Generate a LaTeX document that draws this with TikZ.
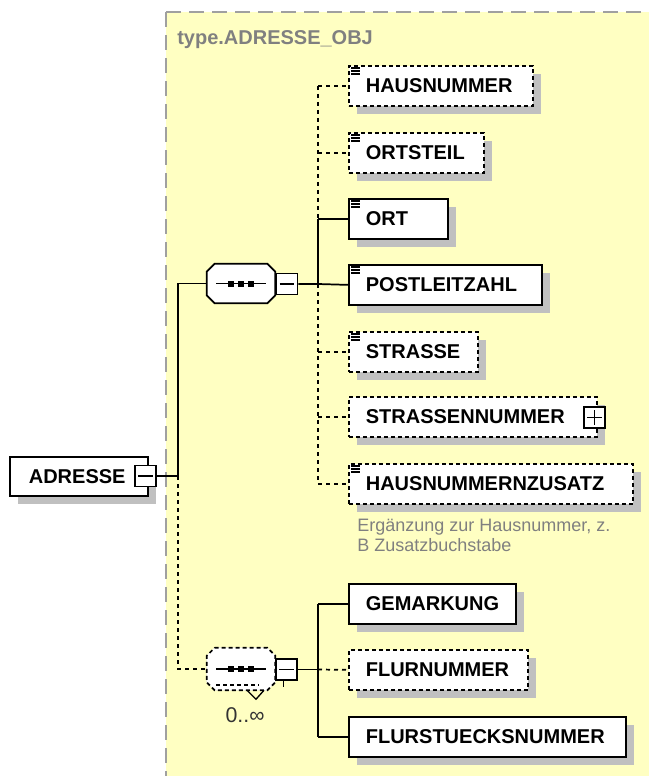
\documentclass[tikz,border=0pt]{standalone}
\usepackage{fontspec}
\setmainfont{Liberation Sans}
\usetikzlibrary{shadows}
\definecolor{bgyellow}{HTML}{FFFFC2}
\definecolor{shadowgray}{HTML}{C0C0C0}
\definecolor{framegray}{HTML}{A0A0A0}
\definecolor{textgray}{HTML}{808080}
\newcommand\lblfont{\bfseries\fontsize{15}{18}\selectfont}
\newcommand\docicon[1]{\foreach \ii in {2.25,4.5,6.75}{\draw[line width=0.8pt] ([xshift=2.25pt,yshift=-\ii pt]#1.north west) -- ++(9,0);}}
% octagon outline around a named node: #1 = node name
\newcommand\octpath[1]{([xshift=6pt]#1.north west) -- ([xshift=-6pt]#1.north east) -- ([yshift=-6pt]#1.north east) -- ([yshift=6pt]#1.south east) -- ([xshift=-6pt]#1.south east) -- ([xshift=6pt]#1.south west) -- ([yshift=6pt]#1.south west) -- ([yshift=-6pt]#1.north west) -- cycle}
\begin{document}
\begin{tikzpicture}[x=0.75pt,y=-0.75pt,
  sh/.style={drop shadow={shadow xshift=6pt, shadow yshift=-6pt, fill=shadowgray, opacity=1}},
  elem/.style={draw, fill=white, line width=1.3pt, anchor=north west, minimum height=30pt,
    inner xsep=12.75pt, inner ysep=0pt, font=\lblfont, sh},
  opt/.style={elem, dash pattern=on 3pt off 2.25pt},
  ctrl/.style={draw, fill=white, line width=1.2pt, minimum size=15.75pt, inner sep=0pt},
  seqanchor/.style={minimum width=51pt, minimum height=29.25pt, inner sep=0pt},
  conn/.style={line width=1.3pt},
  dconn/.style={conn, dash pattern=on 3pt off 3pt}]
\useasboundingbox (0,0) rectangle (649,776);
\fill[white] (0,0) rectangle (649,776);
\fill[bgyellow] (166,12) rectangle (649,776);
\draw[framegray, line width=1.6pt, dash pattern=on 11.25pt off 6pt] (166,12) -- (649,12);
\draw[framegray, line width=1.6pt, dash pattern=on 11.25pt off 6pt] (166,12) -- (166,776);
\node[anchor=north west, inner sep=0pt, text=textgray, font=\lblfont] (title) at (177,30) {type.ADRESSE\_OBJ};

% root
\node[elem, inner xsep=14.25pt, minimum height=29.25pt] (adr) at (9,456) {\makebox[75pt][l]{ADRESSE}};
\node[ctrl] (am) at (145.5,476) {};
\draw[line width=1.2pt] ([xshift=3pt]am.west) -- ([xshift=-3pt]am.east);

% sequence 1
\node[seqanchor] (s1) at (241,283.5) {};
\fill[shadowgray, xshift=6pt, yshift=-7pt] \octpath{s1};
\draw[line width=1.3pt, fill=white] \octpath{s1};
\node[ctrl] (m1) at (287,284) {};
\draw[line width=1.2pt] ([xshift=3pt]m1.west) -- ([xshift=-3pt]m1.east);
\draw[line width=1.2pt] ([xshift=-18.75pt]s1.center) -- ([xshift=18.75pt]s1.center);
\foreach \k in {-10,0,10}{\fill ([xshift=\k*0.75pt]s1.center) +(-3,-3) rectangle +(3,3);}

% sequence 2
\node[seqanchor, minimum height=31.5pt] (s2) at (241,669) {};
\fill[shadowgray, xshift=6pt, yshift=-7pt] \octpath{s2};
\draw[line width=1.3pt, fill=white, dash pattern=on 3pt off 2.25pt] \octpath{s2};
\draw[line width=1pt, dash pattern=on 3pt off 2.25pt] ([xshift=7pt,yshift=4pt]s2.south west) -- ([xshift=-12pt,yshift=4pt]s2.south east);
\draw[line width=1pt] ([xshift=4.5pt]s2.south) -- ++(9,9) -- ++(8,-9);
\node[ctrl] (m2) at (286.5,669.5) {};
\draw[line width=1.2pt] ([xshift=3pt]m2.west) -- ([xshift=-3pt]m2.east);
\draw[line width=1.2pt] ([xshift=-2.25pt]m2.south) -- ++(0,6);
\draw[line width=1.2pt] ([xshift=-18.75pt]s2.center) -- ([xshift=18.75pt]s2.center);
\foreach \k in {-10,0,10}{\fill ([xshift=\k*0.75pt]s2.center) +(-3,-3) rectangle +(3,3);}
\node[font=\fontsize{16}{18}\selectfont, text=black!80, inner sep=0pt] (occ) at (245,715) {0..∞};

% elements of sequence 1
\node[opt] (hn) at (348,65) {\makebox[112.5pt][l]{HAUSNUMMER}};
\node[opt] (ot) at (348,132) {\makebox[75.75pt][l]{ORTSTEIL}};
\node[elem] (ort) at (348,198) {\makebox[48.75pt][l]{ORT}};
\node[elem] (pl) at (348,264) {\makebox[119.25pt][l]{POSTLEITZAHL}};
\node[opt] (st) at (348,331) {\makebox[71.25pt][l]{STRASSE}};
\node[opt] (sn) at (348,396) {\makebox[160.5pt][l]{STRASSENNUMMER}};
\node[opt] (hz) at (348,463) {\makebox[187.5pt][l]{HAUSNUMMERNZUSATZ}};
\foreach \n in {hn,ot,ort,pl,st,hz}{\docicon{\n}}
\node[ctrl] (pm) at (594.5,417.5) {};
\draw[line width=1.2pt] ([xshift=3pt]pm.west) -- ([xshift=-3pt]pm.east);
\draw[line width=1.2pt] ([yshift=3pt]pm.south) -- ([yshift=-3pt]pm.north);
\node[anchor=north west, inner sep=0pt, align=left, text=textgray,
  font=\fontsize{13.5}{15}\selectfont] (note) at (357,519) {Ergänzung zur Hausnummer, z.\\B Zusatzbuchstabe};

% elements of sequence 2
\node[elem] (gm) at (348,583) {\makebox[99.75pt][l]{GEMARKUNG}};
\node[opt] (fn) at (348,649) {\makebox[108.75pt][l]{FLURNUMMER}};
\node[elem] (fs) at (348,716) {\makebox[182.25pt][l]{FLURSTUECKSNUMMER}};

% bus coordinates
\coordinate (bus0) at (178,476);
\coordinate (bus1) at (318,284);
\coordinate (bus2) at (318,669.5);

% connectors from root
\draw[conn] (am.east) -- (bus0);
\draw[conn] (bus0) -- (s1.west -| bus0) -- (s1.west);
\draw[dconn] (bus0) -- (s2.west -| bus0) -- (s2.west);

% connectors of sequence 1
\draw[conn] (m1.east) -- (bus1) -- (pl.west);
\draw[dconn] (hn.west -| bus1) -- (ort.west -| bus1);
\draw[conn] (ort.west -| bus1) -- (bus1);
\draw[dconn] (bus1) -- (hz.west -| bus1);
\draw[dconn] (hn.west -| bus1) -- (hn.west);
\draw[dconn] (ot.west -| bus1) -- (ot.west);
\draw[conn] (ort.west -| bus1) -- (ort.west);
\draw[dconn] (st.west -| bus1) -- (st.west);
\draw[dconn] (sn.west -| bus1) -- (sn.west);
\draw[dconn] (hz.west -| bus1) -- (hz.west);

% connectors of sequence 2
\draw[conn] (m2.east) -- (bus2);
\draw[conn] (gm.west -| bus2) -- (fs.west -| bus2);
\draw[conn] (gm.west -| bus2) -- (gm.west);
\draw[dconn] (bus2) -- (fn.west);
\draw[conn] (fs.west -| bus2) -- (fs.west);
\end{tikzpicture}
\end{document}
